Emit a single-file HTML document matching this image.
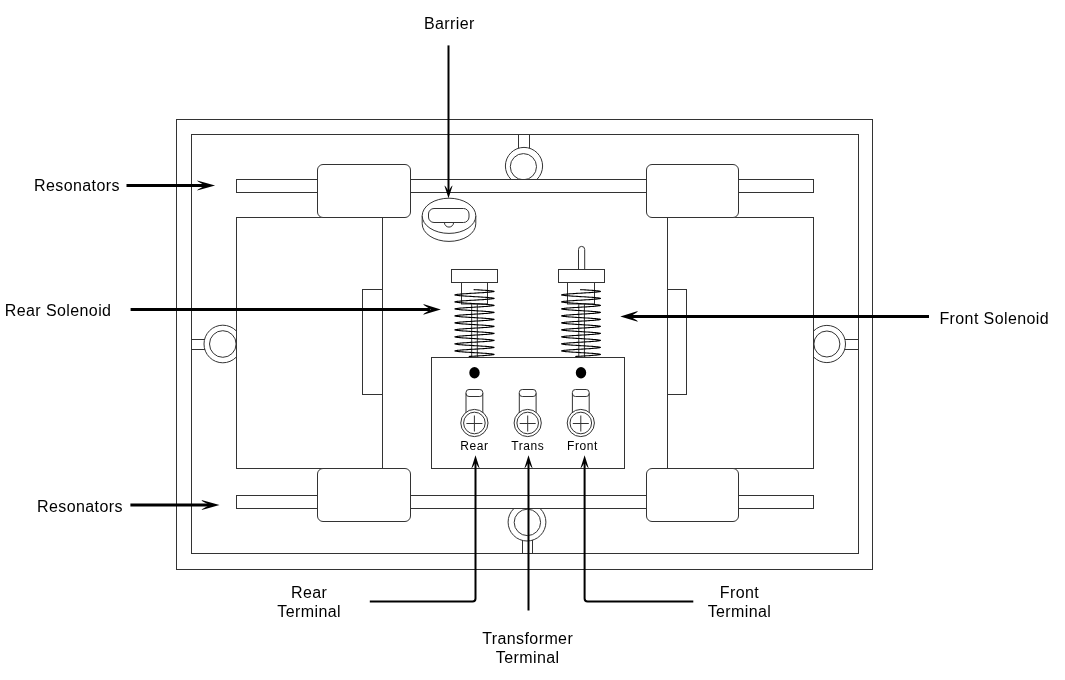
<!DOCTYPE html>
<html><head><meta charset="utf-8"><style>
html,body{margin:0;padding:0;background:#fff;}
svg{display:block;filter:grayscale(1);}
.t{fill:none;stroke:#333;stroke-width:1;}
.w{fill:#fff;stroke:#333;stroke-width:1;}
.k{fill:none;stroke:#000;stroke-width:3;}
.k2{fill:none;stroke:#000;stroke-width:2;}
.lb{font-family:"Liberation Sans",sans-serif;font-size:16px;fill:#000;letter-spacing:0.4px;}
.sm{font-family:"Liberation Sans",sans-serif;font-size:12px;fill:#000;letter-spacing:0.55px;}
.sp{fill:none;stroke:#000;stroke-width:1.1;stroke-linejoin:round;}
</style></head><body>
<svg width="1065" height="680" viewBox="0 0 1065 680">
<rect x="176.5" y="119.5" width="696" height="450" class="t"/>
<rect x="191.5" y="134.5" width="667" height="419" class="t"/>
<!-- rings -->
<path class="t" d="M518.5,134.5 V148 M529.5,134.5 V148"/>
<circle cx="524" cy="166" r="18.6" class="t"/><circle cx="523.4" cy="166.7" r="13.1" class="t"/>
<path class="t" d="M191.5,339.5 H205 M191.5,349.5 H205"/>
<circle cx="222.8" cy="344" r="18.8" class="t"/><circle cx="222.8" cy="344" r="13.3" class="t"/>
<path class="t" d="M858.5,339.5 H845 M858.5,349.5 H845"/>
<circle cx="826.9" cy="344" r="18.6" class="t"/><circle cx="826.9" cy="344" r="13.0" class="t"/>
<path class="t" d="M522.5,553.5 V540 M532.5,553.5 V540"/>
<circle cx="527" cy="522.1" r="18.9" class="t"/><circle cx="527.4" cy="522.4" r="13.2" class="t"/>
<!-- inner frames -->
<rect x="236.5" y="217.5" width="146" height="251" class="w"/>
<rect x="667.5" y="217.5" width="146" height="251" class="w"/>
<rect x="362.5" y="289.5" width="20" height="105" class="t"/>
<rect x="667.5" y="289.5" width="19" height="105" class="t"/>
<!-- bars -->
<rect x="236.5" y="179.5" width="577" height="13" class="w"/>
<rect x="236.5" y="495.5" width="577" height="13" class="w"/>
<!-- boxes -->
<rect x="317.5" y="164.5" width="93" height="53" rx="5.5" class="w"/>
<rect x="646.5" y="164.5" width="92" height="53" rx="5.5" class="w"/>
<rect x="317.5" y="468.5" width="93" height="53" rx="5.5" class="w"/>
<rect x="646.5" y="468.5" width="92" height="53" rx="5.5" class="w"/>
<!-- barrier -->
<path class="w" d="M422.2,215.8 V223.8 A26.8,17.6 0 0 0 475.8,223.8 V215.8"/>
<ellipse cx="449" cy="215.8" rx="26.8" ry="17.6" class="w"/>
<path class="t" d="M444.4,222.5 A4.6,4.6 0 0 0 453.6,222.5"/>
<rect x="428.5" y="208.5" width="40.5" height="14" rx="5.5" class="w"/>
<!-- solenoids -->
<path class="t" d="M471.7,304 V357.5 M477.3,304 V357.5"/>
<rect x="461.5" y="282.5" width="26" height="21.5" class="t"/>
<rect x="451.5" y="269.5" width="46" height="13" class="t"/>
<path class="sp" d="M473.67,289.60 L475.34,289.70 L477.00,289.80 L478.65,289.90 L480.26,290.00 L481.83,290.10 L483.35,290.20 L484.81,290.30 L486.19,290.40 L487.49,290.50 L488.70,290.60 L489.80,290.70 L490.79,290.80 L491.67,290.90 L492.43,291.00 L493.06,291.10 L493.56,291.20 L493.92,291.30 L494.15,291.40 L493.91,291.50 L493.53,291.60 L493.02,291.70 L492.39,291.80 L491.63,291.90 L490.74,292.00 L489.74,292.10 L488.63,292.20 L487.42,292.30 L486.12,292.40 L484.73,292.50 L483.27,292.60 L481.75,292.70 L480.17,292.80 L478.56,292.90 L476.91,293.01 L475.25,293.11 L473.58,293.21 L471.91,293.31 L470.27,293.41 L468.66,293.51 L467.09,293.61 L465.57,293.71 L464.11,293.81 L462.74,293.91 L461.44,294.01 L460.24,294.11 L459.15,294.21 L458.16,294.31 L457.29,294.41 L456.54,294.51 L455.92,294.61 L455.42,294.71 L455.06,294.81 L454.86,294.91 L455.11,295.01 L455.49,295.11 L456.01,295.21 L456.65,295.31 L457.42,295.41 L458.31,295.51 L459.31,295.61 L460.43,295.71 L461.64,295.81 L462.95,295.91 L464.34,296.01 L465.80,296.11 L467.33,296.21 L468.91,296.31 L470.53,296.41 L472.18,296.51 L473.84,296.61 L475.51,296.71 L477.17,296.81 L478.82,296.91 L480.43,297.01 L482.00,297.11 L483.51,297.21 L484.96,297.31 L486.33,297.41 L487.62,297.51 L488.82,297.61 L489.91,297.71 L490.89,297.81 L491.75,297.91 L492.50,298.01 L493.11,298.11 L493.60,298.21 L493.95,298.31 L494.13,298.41 L493.87,298.51 L493.48,298.61 L492.96,298.71 L492.31,298.81 L491.54,298.91 L490.64,299.01 L489.63,299.11 L488.51,299.21 L487.29,299.31 L485.98,299.41 L484.58,299.51 L483.12,299.61 L481.59,299.72 L480.01,299.82 L478.39,299.92 L476.74,300.02 L475.07,300.12 L473.40,300.22 L471.74,300.32 L470.10,300.42 L468.49,300.52 L466.92,300.62 L465.41,300.72 L463.97,300.82 L462.60,300.92 L461.31,301.02 L460.12,301.12 L459.04,301.22 L458.06,301.32 L457.20,301.42 L456.47,301.52 L455.86,301.62 L455.38,301.72 L455.03,301.82 L454.88,301.92 L455.14,302.02 L455.54,302.12 L456.07,302.22 L456.72,302.32 L457.51,302.42 L458.41,302.52 L459.43,302.62 L460.55,302.72 L461.78,302.82 L463.09,302.92 L464.49,303.02 L465.96,303.12 L467.49,303.22 L469.08,303.32 L470.70,303.42 L472.35,303.52 L474.02,303.62 L475.69,303.72 L477.35,303.82 L478.99,303.92 L480.59,304.02 L482.16,304.12 L483.66,304.22 L485.11,304.32 L486.47,304.42 L487.75,304.52 L488.93,304.62 L490.02,304.72 L490.99,304.82 L491.84,304.92 L492.57,305.02 L493.17,305.12 L493.64,305.22 L493.98,305.32 L494.11,305.42 L493.84,305.52 L493.44,305.62 L492.90,305.72 L492.24,305.82 L491.45,305.92 L490.54,306.02 L489.52,306.12 L488.39,306.22 L487.16,306.33 L485.84,306.43 L484.43,306.53 L482.96,306.63 L481.42,306.73 L479.84,306.83 L478.21,306.93 L476.56,307.03 L474.90,307.13 L473.23,307.23 L471.57,307.33 L469.93,307.43 L468.32,307.53 L466.76,307.63 L465.26,307.73 L463.82,307.83 L462.46,307.93 L461.18,308.03 L460.01,308.13 L458.93,308.23 L457.97,308.33 L457.12,308.43 L456.40,308.53 L455.80,308.63 L455.34,308.73 L455.00,308.83 L454.90,308.93 L455.18,309.03 L455.59,309.13 L456.13,309.23 L456.80,309.33 L457.59,309.43 L458.51,309.53 L459.54,309.63 L460.67,309.73 L461.91,309.83 L463.23,309.93 L464.64,310.03 L466.12,310.13 L467.66,310.23 L469.25,310.33 L470.87,310.43 L472.52,310.53 L474.19,310.63 L475.86,310.73 L477.52,310.83 L479.16,310.93 L480.76,311.03 L482.32,311.13 L483.82,311.23 L485.25,311.33 L486.61,311.43 L487.88,311.53 L489.05,311.63 L490.12,311.73 L491.08,311.83 L491.92,311.93 L492.64,312.03 L493.23,312.13 L493.68,312.23 L494.01,312.33 L494.08,312.43 L493.80,312.53 L493.39,312.63 L492.84,312.73 L492.16,312.83 L491.36,312.93 L490.44,313.04 L489.41,313.14 L488.26,313.24 L487.02,313.34 L485.69,313.44 L484.28,313.54 L482.80,313.64 L481.26,313.74 L479.67,313.84 L478.04,313.94 L476.39,314.04 L474.72,314.14 L473.05,314.24 L471.40,314.34 L469.76,314.44 L468.16,314.54 L466.60,314.64 L465.10,314.74 L463.67,314.84 L462.32,314.94 L461.06,315.04 L459.89,315.14 L458.82,315.24 L457.87,315.34 L457.04,315.44 L456.33,315.54 L455.75,315.64 L455.29,315.74 L454.98,315.84 L454.93,315.94 L455.22,316.04 L455.64,316.14 L456.19,316.24 L456.88,316.34 L457.68,316.44 L458.61,316.54 L459.65,316.64 L460.80,316.74 L462.04,316.84 L463.38,316.94 L464.79,317.04 L466.28,317.14 L467.82,317.24 L469.41,317.34 L471.04,317.44 L472.70,317.54 L474.37,317.64 L476.03,317.74 L477.69,317.84 L479.33,317.94 L480.92,318.04 L482.48,318.14 L483.97,318.24 L485.40,318.34 L486.75,318.44 L488.01,318.54 L489.17,318.64 L490.23,318.74 L491.17,318.84 L492.00,318.94 L492.70,319.04 L493.28,319.14 L493.72,319.24 L494.04,319.34 L494.06,319.44 L493.77,319.54 L493.34,319.64 L492.77,319.75 L492.08,319.85 L491.27,319.95 L490.34,320.05 L489.29,320.15 L488.14,320.25 L486.89,320.35 L485.55,320.45 L484.13,320.55 L482.64,320.65 L481.10,320.75 L479.50,320.85 L477.87,320.95 L476.22,321.05 L474.55,321.15 L472.88,321.25 L471.22,321.35 L469.59,321.45 L467.99,321.55 L466.44,321.65 L464.95,321.75 L463.53,321.85 L462.18,321.95 L460.93,322.05 L459.77,322.15 L458.72,322.25 L457.78,322.35 L456.96,322.45 L456.26,322.55 L455.69,322.65 L455.26,322.75 L454.95,322.85 L454.95,322.95 L455.25,323.05 L455.69,323.15 L456.26,323.25 L456.96,323.35 L457.78,323.45 L458.72,323.55 L459.77,323.65 L460.92,323.75 L462.18,323.85 L463.52,323.95 L464.94,324.05 L466.44,324.15 L467.99,324.25 L469.58,324.35 L471.22,324.45 L472.87,324.55 L474.54,324.65 L476.21,324.75 L477.86,324.85 L479.49,324.95 L481.09,325.05 L482.64,325.15 L484.13,325.25 L485.54,325.35 L486.88,325.45 L488.13,325.55 L489.29,325.65 L490.33,325.75 L491.27,325.85 L492.08,325.95 L492.77,326.05 L493.33,326.15 L493.76,326.25 L494.06,326.35 L494.04,326.46 L493.73,326.56 L493.28,326.66 L492.71,326.76 L492.00,326.86 L491.18,326.96 L490.23,327.06 L489.17,327.16 L488.01,327.26 L486.75,327.36 L485.41,327.46 L483.98,327.56 L482.48,327.66 L480.93,327.76 L479.33,327.86 L477.70,327.96 L476.04,328.06 L474.37,328.16 L472.71,328.26 L471.05,328.36 L469.42,328.46 L467.83,328.56 L466.28,328.66 L464.80,328.76 L463.38,328.86 L462.05,328.96 L460.80,329.06 L459.66,329.16 L458.62,329.26 L457.69,329.36 L456.88,329.46 L456.20,329.56 L455.64,329.66 L455.22,329.76 L454.93,329.86 L454.98,329.96 L455.29,330.06 L455.74,330.16 L456.33,330.26 L457.04,330.36 L457.87,330.46 L458.82,330.56 L459.88,330.66 L461.05,330.76 L462.32,330.86 L463.67,330.96 L465.10,331.06 L466.60,331.16 L468.15,331.26 L469.75,331.36 L471.39,331.46 L473.05,331.56 L474.71,331.66 L476.38,331.76 L478.04,331.86 L479.66,331.96 L481.25,332.06 L482.80,332.16 L484.28,332.26 L485.69,332.36 L487.02,332.46 L488.26,332.56 L489.40,332.66 L490.44,332.76 L491.36,332.86 L492.16,332.96 L492.84,333.06 L493.38,333.17 L493.80,333.27 L494.08,333.37 L494.01,333.47 L493.69,333.57 L493.23,333.67 L492.64,333.77 L491.92,333.87 L491.08,333.97 L490.13,334.07 L489.06,334.17 L487.89,334.27 L486.62,334.37 L485.26,334.47 L483.83,334.57 L482.32,334.67 L480.77,334.77 L479.16,334.87 L477.53,334.97 L475.87,335.07 L474.20,335.17 L472.53,335.27 L470.88,335.37 L469.25,335.47 L467.66,335.57 L466.13,335.67 L464.65,335.77 L463.24,335.87 L461.91,335.97 L460.68,336.07 L459.54,336.17 L458.51,336.27 L457.60,336.37 L456.80,336.47 L456.13,336.57 L455.59,336.67 L455.18,336.77 L454.91,336.87 L455.00,336.97 L455.33,337.07 L455.80,337.17 L456.39,337.27 L457.12,337.37 L457.96,337.47 L458.93,337.57 L460.00,337.67 L461.18,337.77 L462.45,337.87 L463.81,337.97 L465.25,338.07 L466.76,338.17 L468.32,338.27 L469.92,338.37 L471.56,338.47 L473.22,338.57 L474.89,338.67 L476.56,338.77 L478.21,338.87 L479.83,338.97 L481.42,339.07 L482.95,339.17 L484.43,339.27 L485.83,339.37 L487.15,339.47 L488.38,339.57 L489.51,339.67 L490.54,339.77 L491.45,339.88 L492.24,339.98 L492.90,340.08 L493.43,340.18 L493.84,340.28 L494.11,340.38 L493.98,340.48 L493.64,340.58 L493.17,340.68 L492.57,340.78 L491.84,340.88 L490.99,340.98 L490.02,341.08 L488.94,341.18 L487.76,341.28 L486.48,341.38 L485.11,341.48 L483.67,341.58 L482.16,341.68 L480.60,341.78 L478.99,341.88 L477.35,341.98 L475.69,342.08 L474.02,342.18 L472.36,342.28 L470.71,342.38 L469.08,342.48 L467.50,342.58 L465.97,342.68 L464.50,342.78 L463.10,342.88 L461.78,342.98 L460.56,343.08 L459.43,343.18 L458.41,343.28 L457.51,343.38 L456.73,343.48 L456.07,343.58 L455.54,343.68 L455.15,343.78 L454.88,343.88 L455.03,343.98 L455.38,344.08 L455.85,344.18 L456.46,344.28 L457.20,344.38 L458.06,344.48 L459.03,344.58 L460.12,344.68 L461.31,344.78 L462.59,344.88 L463.96,344.98 L465.41,345.08 L466.92,345.18 L468.48,345.28 L470.09,345.38 L471.73,345.48 L473.39,345.58 L475.06,345.68 L476.73,345.78 L478.38,345.88 L480.00,345.98 L481.58,346.08 L483.11,346.18 L484.58,346.28 L485.97,346.38 L487.29,346.49 L488.51,346.59 L489.63,346.69 L490.64,346.79 L491.53,346.89 L492.31,346.99 L492.96,347.09 L493.48,347.19 L493.87,347.29 L494.13,347.39 L493.95,347.49 L493.60,347.59 L493.12,347.69 L492.50,347.79 L491.76,347.89 L490.89,347.99 L489.91,348.09 L488.82,348.19 L487.63,348.29 L486.34,348.39 L484.97,348.49 L483.52,348.59 L482.00,348.69 L480.43,348.79 L478.82,348.89 L477.18,348.99 L475.52,349.09 L473.85,349.19 L472.18,349.29 L470.54,349.39 L468.92,349.49 L467.34,349.59 L465.81,349.69 L464.35,349.79 L462.96,349.89 L461.65,349.99 L460.43,350.09 L459.32,350.19 L458.31,350.29 L457.42,350.39 L456.65,350.49 L456.01,350.59 L455.49,350.69 L455.11,350.79 L454.86,350.89 L455.06,350.99 L455.42,351.09 L455.91,351.19 L456.54,351.29 L457.28,351.39 L458.15,351.49 L459.14,351.59 L460.24,351.69 L461.44,351.79 L462.73,351.89 L464.11,351.99 L465.56,352.09 L467.08,352.19 L468.65,352.29 L470.26,352.39 L471.91,352.49 L473.57,352.59 L475.24,352.69 L476.90,352.79 L478.55,352.89 L480.17,352.99 L481.74,353.09 L483.27,353.20 L484.73,353.30 L486.11,353.40 L487.42,353.50 L488.63,353.60 L489.74,353.70 L490.74,353.80 L491.62,353.90 L492.39,354.00 L493.02,354.10 L493.53,354.20 L493.90,354.30 L494.14,354.40 L493.92,354.50 L493.56,354.60 L493.06,354.70 L492.43,354.80 L491.67,354.90 L490.80,355.00 L489.80,355.10 L488.70,355.20 L487.50,355.30 L486.20,355.40 L484.82,355.50 L483.36,355.60 L481.84,355.70 L480.27,355.80 L478.65,355.90 L477.01,356.00 L475.34,356.10 L473.67,356.20 L472.01,356.30 L470.36,356.40 L468.75,356.50"/>
<path class="t" d="M578.8,304 V357.5 M584.4,304 V357.5"/>
<rect x="567.5" y="282.5" width="27" height="21.5" class="t"/>
<rect x="558.5" y="269.5" width="46" height="13" class="t"/>
<path class="t" d="M578.5,269.5 V249.5 A3.1,3.1 0 0 1 584.7,249.5 V269.5"/>
<path class="sp" d="M580.17,289.60 L581.83,289.70 L583.48,289.80 L585.11,289.90 L586.72,290.00 L588.28,290.10 L589.79,290.20 L591.23,290.30 L592.60,290.40 L593.89,290.50 L595.09,290.60 L596.18,290.70 L597.17,290.80 L598.04,290.90 L598.79,291.00 L599.41,291.10 L599.91,291.20 L600.27,291.30 L600.50,291.40 L600.26,291.50 L599.89,291.60 L599.38,291.70 L598.75,291.80 L597.99,291.90 L597.12,292.00 L596.13,292.10 L595.03,292.20 L593.82,292.30 L592.53,292.40 L591.16,292.50 L589.71,292.60 L588.20,292.70 L586.63,292.80 L585.03,292.90 L583.39,293.01 L581.74,293.11 L580.08,293.21 L578.43,293.31 L576.80,293.41 L575.20,293.51 L573.64,293.61 L572.14,293.71 L570.69,293.81 L569.33,293.91 L568.04,294.01 L566.85,294.11 L565.76,294.21 L564.78,294.31 L563.92,294.41 L563.18,294.51 L562.56,294.61 L562.07,294.71 L561.71,294.81 L561.51,294.91 L561.76,295.01 L562.14,295.11 L562.65,295.21 L563.28,295.31 L564.05,295.41 L564.93,295.51 L565.93,295.61 L567.04,295.71 L568.24,295.81 L569.54,295.91 L570.92,296.01 L572.37,296.11 L573.89,296.21 L575.45,296.31 L577.06,296.41 L578.69,296.51 L580.35,296.61 L582.00,296.71 L583.65,296.81 L585.28,296.91 L586.88,297.01 L588.44,297.11 L589.94,297.21 L591.38,297.31 L592.74,297.41 L594.02,297.51 L595.21,297.61 L596.29,297.71 L597.26,297.81 L598.12,297.91 L598.86,298.01 L599.47,298.11 L599.95,298.21 L600.30,298.31 L600.48,298.41 L600.22,298.51 L599.84,298.61 L599.32,298.71 L598.68,298.81 L597.91,298.91 L597.02,299.01 L596.02,299.11 L594.90,299.21 L593.69,299.31 L592.39,299.41 L591.01,299.51 L589.55,299.61 L588.03,299.72 L586.46,299.82 L584.86,299.92 L583.22,300.02 L581.57,300.12 L579.91,300.22 L578.26,300.32 L576.63,300.42 L575.04,300.52 L573.48,300.62 L571.98,300.72 L570.55,300.82 L569.19,300.92 L567.91,301.02 L566.73,301.12 L565.66,301.22 L564.69,301.32 L563.84,301.42 L563.10,301.52 L562.50,301.62 L562.02,301.72 L561.68,301.82 L561.53,301.92 L561.79,302.02 L562.18,302.12 L562.71,302.22 L563.36,302.32 L564.14,302.42 L565.03,302.52 L566.04,302.62 L567.16,302.72 L568.37,302.82 L569.68,302.92 L571.07,303.02 L572.53,303.12 L574.05,303.22 L575.62,303.32 L577.23,303.42 L578.87,303.52 L580.52,303.62 L582.18,303.72 L583.82,303.82 L585.45,303.92 L587.05,304.02 L588.60,304.12 L590.10,304.22 L591.53,304.32 L592.88,304.42 L594.15,304.52 L595.32,304.62 L596.40,304.72 L597.36,304.82 L598.21,304.92 L598.93,305.02 L599.53,305.12 L600.00,305.22 L600.33,305.32 L600.46,305.42 L600.19,305.52 L599.79,305.62 L599.26,305.72 L598.60,305.82 L597.82,305.92 L596.92,306.02 L595.90,306.12 L594.78,306.22 L593.56,306.33 L592.25,306.43 L590.86,306.53 L589.40,306.63 L587.87,306.73 L586.30,306.83 L584.69,306.93 L583.05,307.03 L581.39,307.13 L579.74,307.23 L578.09,307.33 L576.46,307.43 L574.87,307.53 L573.32,307.63 L571.83,307.73 L570.40,307.83 L569.05,307.93 L567.79,308.03 L566.62,308.13 L565.55,308.23 L564.59,308.33 L563.75,308.43 L563.04,308.53 L562.44,308.63 L561.98,308.73 L561.65,308.83 L561.55,308.93 L561.83,309.03 L562.23,309.13 L562.77,309.23 L563.43,309.33 L564.22,309.43 L565.13,309.53 L566.15,309.63 L567.28,309.73 L568.50,309.83 L569.82,309.93 L571.22,310.03 L572.68,310.13 L574.21,310.23 L575.79,310.33 L577.40,310.43 L579.04,310.53 L580.69,310.63 L582.35,310.73 L584.00,310.83 L585.62,310.93 L587.21,311.03 L588.76,311.13 L590.25,311.23 L591.67,311.33 L593.02,311.43 L594.28,311.53 L595.44,311.63 L596.50,311.73 L597.45,311.83 L598.29,311.93 L599.00,312.03 L599.58,312.13 L600.04,312.23 L600.36,312.33 L600.44,312.43 L600.16,312.53 L599.74,312.63 L599.20,312.73 L598.53,312.83 L597.73,312.93 L596.82,313.04 L595.79,313.14 L594.66,313.24 L593.43,313.34 L592.11,313.44 L590.71,313.54 L589.24,313.64 L587.71,313.74 L586.13,313.84 L584.52,313.94 L582.87,314.04 L581.22,314.14 L579.56,314.24 L577.92,314.34 L576.30,314.44 L574.71,314.54 L573.16,314.64 L571.68,314.74 L570.26,314.84 L568.91,314.94 L567.66,315.04 L566.50,315.14 L565.44,315.24 L564.50,315.34 L563.67,315.44 L562.97,315.54 L562.39,315.64 L561.94,315.74 L561.63,315.84 L561.58,315.94 L561.86,316.04 L562.28,316.14 L562.83,316.24 L563.51,316.34 L564.31,316.44 L565.23,316.54 L566.27,316.64 L567.40,316.74 L568.64,316.84 L569.96,316.94 L571.37,317.04 L572.84,317.14 L574.37,317.24 L575.95,317.34 L577.57,317.44 L579.21,317.54 L580.87,317.64 L582.52,317.74 L584.17,317.84 L585.79,317.94 L587.38,318.04 L588.92,318.14 L590.40,318.24 L591.82,318.34 L593.15,318.44 L594.40,318.54 L595.56,318.64 L596.61,318.74 L597.55,318.84 L598.37,318.94 L599.07,319.04 L599.64,319.14 L600.08,319.24 L600.39,319.34 L600.41,319.44 L600.12,319.54 L599.69,319.64 L599.13,319.75 L598.45,319.85 L597.64,319.95 L596.72,320.05 L595.68,320.15 L594.53,320.25 L593.29,320.35 L591.97,320.45 L590.56,320.55 L589.08,320.65 L587.55,320.75 L585.96,320.85 L584.35,320.95 L582.70,321.05 L581.05,321.15 L579.39,321.25 L577.75,321.35 L576.13,321.45 L574.54,321.55 L573.00,321.65 L571.52,321.75 L570.11,321.85 L568.78,321.95 L567.53,322.05 L566.38,322.15 L565.34,322.25 L564.41,322.35 L563.59,322.45 L562.90,322.55 L562.34,322.65 L561.90,322.75 L561.60,322.85 L561.60,322.95 L561.90,323.05 L562.33,323.15 L562.90,323.25 L563.59,323.35 L564.40,323.45 L565.34,323.55 L566.38,323.65 L567.53,323.75 L568.77,323.85 L570.11,323.95 L571.52,324.05 L573.00,324.15 L574.54,324.25 L576.12,324.35 L577.74,324.45 L579.38,324.55 L581.04,324.65 L582.69,324.75 L584.34,324.85 L585.96,324.95 L587.54,325.05 L589.07,325.15 L590.55,325.25 L591.96,325.35 L593.29,325.45 L594.53,325.55 L595.67,325.65 L596.71,325.75 L597.64,325.85 L598.45,325.95 L599.13,326.05 L599.69,326.15 L600.12,326.25 L600.41,326.35 L600.39,326.46 L600.08,326.56 L599.64,326.66 L599.07,326.76 L598.37,326.86 L597.55,326.96 L596.61,327.06 L595.56,327.16 L594.41,327.26 L593.16,327.36 L591.82,327.46 L590.41,327.56 L588.92,327.66 L587.38,327.76 L585.80,327.86 L584.17,327.96 L582.53,328.06 L580.87,328.16 L579.22,328.26 L577.58,328.36 L575.96,328.46 L574.38,328.56 L572.85,328.66 L571.37,328.76 L569.97,328.86 L568.64,328.96 L567.41,329.06 L566.27,329.16 L565.24,329.26 L564.32,329.36 L563.51,329.46 L562.84,329.56 L562.28,329.66 L561.86,329.76 L561.58,329.86 L561.63,329.96 L561.94,330.06 L562.39,330.16 L562.96,330.26 L563.67,330.36 L564.50,330.46 L565.44,330.56 L566.49,330.66 L567.65,330.76 L568.91,330.86 L570.25,330.96 L571.67,331.06 L573.16,331.16 L574.70,331.26 L576.29,331.36 L577.91,331.46 L579.56,331.56 L581.21,331.66 L582.87,331.76 L584.51,331.86 L586.12,331.96 L587.70,332.06 L589.23,332.16 L590.70,332.26 L592.10,332.36 L593.42,332.46 L594.65,332.56 L595.79,332.66 L596.81,332.76 L597.73,332.86 L598.52,332.96 L599.20,333.06 L599.74,333.17 L600.15,333.27 L600.43,333.37 L600.36,333.47 L600.04,333.57 L599.59,333.67 L599.00,333.77 L598.29,333.87 L597.46,333.97 L596.51,334.07 L595.45,334.17 L594.28,334.27 L593.02,334.37 L591.68,334.47 L590.25,334.57 L588.76,334.67 L587.22,334.77 L585.63,334.87 L584.00,334.97 L582.36,335.07 L580.70,335.17 L579.05,335.27 L577.41,335.37 L575.79,335.47 L574.22,335.57 L572.69,335.67 L571.22,335.77 L569.83,335.87 L568.51,335.97 L567.28,336.07 L566.16,336.17 L565.14,336.27 L564.23,336.37 L563.44,336.47 L562.77,336.57 L562.23,336.67 L561.83,336.77 L561.55,336.87 L561.65,336.97 L561.98,337.07 L562.44,337.17 L563.03,337.27 L563.75,337.37 L564.59,337.47 L565.55,337.57 L566.61,337.67 L567.78,337.77 L569.04,337.87 L570.40,337.97 L571.82,338.07 L573.31,338.17 L574.86,338.27 L576.46,338.37 L578.08,338.47 L579.73,338.57 L581.39,338.67 L583.04,338.77 L584.68,338.87 L586.29,338.97 L587.86,339.07 L589.39,339.17 L590.85,339.27 L592.24,339.37 L593.56,339.47 L594.78,339.57 L595.90,339.67 L596.91,339.77 L597.82,339.88 L598.60,339.98 L599.26,340.08 L599.79,340.18 L600.19,340.28 L600.46,340.38 L600.33,340.48 L600.00,340.58 L599.53,340.68 L598.93,340.78 L598.21,340.88 L597.36,340.98 L596.40,341.08 L595.33,341.18 L594.16,341.28 L592.89,341.38 L591.53,341.48 L590.10,341.58 L588.61,341.68 L587.05,341.78 L585.46,341.88 L583.83,341.98 L582.18,342.08 L580.53,342.18 L578.87,342.28 L577.24,342.38 L575.63,342.48 L574.05,342.58 L572.53,342.68 L571.07,342.78 L569.68,342.88 L568.38,342.98 L567.16,343.08 L566.05,343.18 L565.04,343.28 L564.14,343.38 L563.36,343.48 L562.71,343.58 L562.19,343.68 L561.79,343.78 L561.53,343.88 L561.68,343.98 L562.02,344.08 L562.50,344.18 L563.10,344.28 L563.83,344.38 L564.68,344.48 L565.65,344.58 L566.73,344.68 L567.91,344.78 L569.18,344.88 L570.54,344.98 L571.98,345.08 L573.47,345.18 L575.03,345.28 L576.63,345.38 L578.25,345.48 L579.90,345.58 L581.56,345.68 L583.21,345.78 L584.85,345.88 L586.46,345.98 L588.03,346.08 L589.55,346.18 L591.00,346.28 L592.39,346.38 L593.69,346.49 L594.90,346.59 L596.01,346.69 L597.01,346.79 L597.90,346.89 L598.68,346.99 L599.32,347.09 L599.84,347.19 L600.22,347.29 L600.48,347.39 L600.31,347.49 L599.96,347.59 L599.47,347.69 L598.86,347.79 L598.13,347.89 L597.27,347.99 L596.29,348.09 L595.21,348.19 L594.03,348.29 L592.75,348.39 L591.39,348.49 L589.95,348.59 L588.45,348.69 L586.89,348.79 L585.29,348.89 L583.66,348.99 L582.01,349.09 L580.35,349.19 L578.70,349.29 L577.07,349.39 L575.46,349.49 L573.89,349.59 L572.38,349.69 L570.92,349.79 L569.54,349.89 L568.25,349.99 L567.04,350.09 L565.93,350.19 L564.94,350.29 L564.05,350.39 L563.29,350.49 L562.65,350.59 L562.14,350.69 L561.76,350.79 L561.51,350.89 L561.71,350.99 L562.07,351.09 L562.55,351.19 L563.17,351.29 L563.92,351.39 L564.78,351.49 L565.76,351.59 L566.85,351.69 L568.04,351.79 L569.32,351.89 L570.69,351.99 L572.13,352.09 L573.63,352.19 L575.19,352.29 L576.79,352.39 L578.43,352.49 L580.08,352.59 L581.73,352.69 L583.38,352.79 L585.02,352.89 L586.62,352.99 L588.19,353.09 L589.70,353.20 L591.15,353.30 L592.53,353.40 L593.82,353.50 L595.02,353.60 L596.12,353.70 L597.11,353.80 L597.99,353.90 L598.75,354.00 L599.38,354.10 L599.88,354.20 L600.26,354.30 L600.49,354.40 L600.28,354.50 L599.91,354.60 L599.42,354.70 L598.79,354.80 L598.04,354.90 L597.17,355.00 L596.19,355.10 L595.09,355.20 L593.90,355.30 L592.61,355.40 L591.24,355.50 L589.79,355.60 L588.28,355.70 L586.72,355.80 L585.12,355.90 L583.49,356.00 L581.84,356.10 L580.18,356.20 L578.53,356.30 L576.90,356.40 L575.29,356.50"/>
<!-- terminal block -->
<rect x="431.5" y="357.5" width="193" height="111" class="w"/>
<ellipse cx="474.5" cy="372.7" rx="5.2" ry="5.7" fill="#000"/>
<ellipse cx="581" cy="372.7" rx="5.2" ry="5.7" fill="#000"/>

<path class="w" d="M466.00,415 V392.5 Q466.00,389.5 469.00,389.5 H479.80 Q482.80,389.5 482.80,392.5 V415"/>
<path class="t" d="M466.00,393.5 Q466.00,396.5 469.00,396.5 H479.80 Q482.80,396.5 482.80,393.5"/>
<circle cx="474.4" cy="423" r="13.6" class="w"/>
<circle cx="474.4" cy="423" r="10.8" class="t"/>
<path class="t" d="M466.4,423.5 H482.4 M474.4,415.5 V431.5"/>
<text x="474.4" y="449.5" class="sm" text-anchor="middle">Rear</text>


<path class="w" d="M519.30,415 V392.5 Q519.30,389.5 522.30,389.5 H533.10 Q536.10,389.5 536.10,392.5 V415"/>
<path class="t" d="M519.30,393.5 Q519.30,396.5 522.30,396.5 H533.10 Q536.10,396.5 536.10,393.5"/>
<circle cx="527.7" cy="423" r="13.6" class="w"/>
<circle cx="527.7" cy="423" r="10.8" class="t"/>
<path class="t" d="M519.7,423.5 H535.7 M527.7,415.5 V431.5"/>
<text x="527.7" y="449.5" class="sm" text-anchor="middle">Trans</text>


<path class="w" d="M572.40,415 V392.5 Q572.40,389.5 575.40,389.5 H586.20 Q589.20,389.5 589.20,392.5 V415"/>
<path class="t" d="M572.40,393.5 Q572.40,396.5 575.40,396.5 H586.20 Q589.20,396.5 589.20,393.5"/>
<circle cx="580.8" cy="423" r="13.6" class="w"/>
<circle cx="580.8" cy="423" r="10.8" class="t"/>
<path class="t" d="M572.8,423.5 H588.8 M580.8,415.5 V431.5"/>
<text x="582.5" y="449.5" class="sm" text-anchor="middle">Front</text>

<!-- arrows -->
<path class="k" d="M126.5,185.5 H205"/>
<path d="M215.10,185.50 L197.10,180.50 L198.00,181.60 L205.10,185.50 L198.00,189.40 L197.10,190.50 Z" fill="#000"/>
<path class="k" d="M130.4,505.1 H210"/>
<path d="M219.50,505.10 L201.50,500.10 L202.40,501.20 L209.50,505.10 L202.40,509.00 L201.50,510.10 Z" fill="#000"/>
<path class="k" d="M130.6,309.4 H430"/>
<path d="M440.80,309.40 L423.20,304.10 L424.10,305.20 L430.80,309.40 L424.10,313.60 L423.20,314.70 Z" fill="#000"/>
<path class="k" d="M929,316.4 H628"/>
<path d="M620.30,316.40 L637.90,321.70 L637.00,320.60 L630.30,316.40 L637.00,312.20 L637.90,311.10 Z" fill="#000"/>
<path class="k2" d="M448.5,45.4 V192"/>
<path d="M448.50,198.20 L452.60,185.40 L451.39,186.39 L448.50,191.00 L445.61,186.39 L444.40,185.40 Z" fill="#000"/>
<path class="k2" d="M369.8,601.6 H472.5 Q475.5,601.6 475.5,598.6 V460.5"/>
<path d="M475.50,455.30 L471.40,468.20 L472.61,467.21 L475.50,462.50 L478.39,467.21 L479.60,468.20 Z" fill="#000"/>
<path class="k2" d="M528.5,610.5 V460.5"/>
<path d="M528.50,455.30 L524.40,468.20 L525.61,467.21 L528.50,462.50 L531.39,467.21 L532.60,468.20 Z" fill="#000"/>
<path class="k2" d="M693.3,601.4 H587.6 Q584.6,601.4 584.6,598.4 V460.5"/>
<path d="M584.60,455.30 L580.50,468.20 L581.71,467.21 L584.60,462.50 L587.49,467.21 L588.70,468.20 Z" fill="#000"/>
<!-- labels -->
<text x="449.3" y="28.7" class="lb" text-anchor="middle">Barrier</text>
<text x="34" y="190.7" class="lb">Resonators</text>
<text x="37" y="511.5" class="lb">Resonators</text>
<text x="4.8" y="315.8" class="lb">Rear Solenoid</text>
<text x="939.4" y="323.5" class="lb">Front Solenoid</text>
<text x="309.2" y="597.8" class="lb" text-anchor="middle">Rear</text>
<text x="309.2" y="616.8" class="lb" text-anchor="middle">Terminal</text>
<text x="527.7" y="644.1" class="lb" text-anchor="middle">Transformer</text>
<text x="527.7" y="663.1" class="lb" text-anchor="middle">Terminal</text>
<text x="739.5" y="597.6" class="lb" text-anchor="middle">Front</text>
<text x="739.5" y="616.5" class="lb" text-anchor="middle">Terminal</text>
</svg>
</body></html>
